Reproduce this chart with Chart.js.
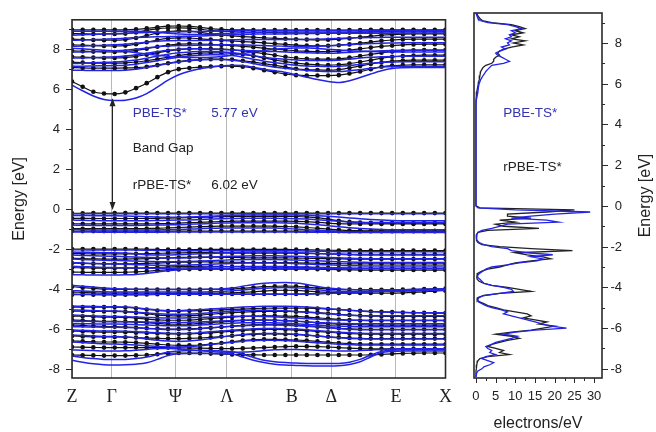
<!DOCTYPE html>
<html>
<head>
<meta charset="utf-8">
<script src="https://cdn.jsdelivr.net/npm/chart.js@4.4.0/dist/chart.umd.min.js"></script>
<style>
  body { margin: 0; background: #fff; }
  #wrap { position: relative; width: 656px; height: 432px; }
  #bands { position: absolute; left: 0; top: 0; }
  #dos { position: absolute; left: 460px; top: 0; }
</style>
</head>
<body>
<div id="wrap">
  <canvas id="bands" width="460" height="432" style="width:460px;height:432px"></canvas>
  <canvas id="dos" width="196" height="432" style="width:196px;height:432px"></canvas>
</div>
<script>
// k-path: band values are given at k-point index 0..35, high symmetry points below
const kSym = [0, 3.72, 9.68, 14.5, 20.6, 24.3, 30.35, 35];
const kLabels = ['Z', 'Γ', 'Ψ', 'Λ', 'B', 'Δ', 'E', 'X'];
const energyTicks = [-8, -7, -6, -5, -4, -3, -2, -1, 0, 1, 2, 3, 4, 5, 6, 7, 8, 9];
const dosTicks = [0, 5, 10, 15, 20, 25, 30];
const dosMinorTicks = [2.5, 7.5, 12.5, 17.5, 22.5, 27.5];

// rPBE-TS* bands (black, with dots)
const rpbeConduction = [
  [6.38,6.12,5.87,5.78,5.76,5.84,6.05,6.3,6.6,6.85,7.0,7.06,7.1,7.13,7.15,7.15,7.12,7.05,6.95,6.85,6.76,6.7,6.68,6.68,6.68,6.7,6.78,6.88,7.0,7.12,7.18,7.2,7.22,7.22,7.22,7.22],
  [7.08,7.06,7.05,7.05,7.05,7.06,7.08,7.12,7.2,7.3,7.38,7.44,7.48,7.5,7.5,7.48,7.42,7.35,7.28,7.2,7.1,7.02,6.98,6.96,6.95,6.98,7.06,7.16,7.26,7.34,7.4,7.43,7.45,7.45,7.45,7.45],
  [7.35,7.33,7.3,7.3,7.3,7.32,7.36,7.42,7.5,7.6,7.68,7.75,7.8,7.82,7.82,7.8,7.74,7.66,7.56,7.46,7.38,7.3,7.25,7.22,7.2,7.22,7.28,7.36,7.45,7.55,7.62,7.66,7.68,7.7,7.7,7.7],
  [7.62,7.6,7.58,7.56,7.56,7.58,7.64,7.72,7.82,7.92,7.98,8.02,8.03,8.02,8.0,7.97,7.92,7.85,7.78,7.7,7.62,7.56,7.52,7.5,7.5,7.52,7.58,7.66,7.74,7.82,7.88,7.92,7.95,7.96,7.96,7.96],
  [7.92,7.9,7.88,7.86,7.86,7.88,7.94,8.02,8.12,8.2,8.25,8.27,8.26,8.24,8.21,8.18,8.14,8.1,8.05,8.0,7.96,7.92,7.9,7.88,7.88,7.9,7.95,8.02,8.08,8.14,8.18,8.22,8.24,8.25,8.25,8.25],
  [8.22,8.2,8.18,8.16,8.16,8.18,8.25,8.35,8.46,8.54,8.57,8.56,8.52,8.48,8.44,8.41,8.38,8.35,8.32,8.28,8.24,8.2,8.18,8.17,8.17,8.2,8.24,8.3,8.36,8.42,8.46,8.49,8.5,8.5,8.5,8.5],
  [8.5,8.48,8.46,8.45,8.45,8.48,8.56,8.68,8.8,8.88,8.92,8.9,8.84,8.76,8.7,8.66,8.63,8.6,8.57,8.54,8.52,8.5,8.48,8.47,8.47,8.5,8.54,8.6,8.65,8.7,8.73,8.75,8.76,8.76,8.76,8.76],
  [8.78,8.77,8.76,8.76,8.76,8.78,8.84,8.94,9.02,9.06,9.07,9.05,9.0,8.94,8.9,8.88,8.86,8.85,8.84,8.83,8.82,8.81,8.8,8.8,8.8,8.81,8.83,8.85,8.87,8.88,8.89,8.9,8.9,8.9,8.9,8.9],
  [8.97,8.97,8.97,8.97,8.97,8.97,8.99,9.04,9.1,9.15,9.16,9.14,9.09,9.03,8.99,8.97,8.97,8.96,8.96,8.96,8.96,8.96,8.96,8.96,8.96,8.96,8.96,8.96,8.97,8.97,8.97,8.97,8.97,8.97,8.97,8.97]
];
const rpbeValence = [
  [-0.21,-0.21,-0.2,-0.2,-0.2,-0.2,-0.2,-0.2,-0.2,-0.2,-0.2,-0.2,-0.2,-0.2,-0.2,-0.2,-0.2,-0.2,-0.2,-0.2,-0.2,-0.2,-0.2,-0.2,-0.2,-0.2,-0.2,-0.2,-0.2,-0.2,-0.2,-0.2,-0.2,-0.2,-0.2,-0.2],
  [-0.46,-0.46,-0.47,-0.47,-0.47,-0.47,-0.47,-0.47,-0.46,-0.45,-0.44,-0.43,-0.42,-0.4,-0.38,-0.37,-0.36,-0.36,-0.36,-0.36,-0.36,-0.37,-0.39,-0.43,-0.5,-0.58,-0.64,-0.67,-0.68,-0.69,-0.69,-0.69,-0.69,-0.69,-0.69,-0.69],
  [-0.73,-0.74,-0.74,-0.74,-0.74,-0.74,-0.74,-0.74,-0.73,-0.72,-0.7,-0.68,-0.66,-0.64,-0.62,-0.61,-0.6,-0.6,-0.6,-0.6,-0.6,-0.61,-0.63,-0.66,-0.7,-0.73,-0.74,-0.74,-0.74,-0.74,-0.74,-0.74,-0.74,-0.74,-0.74,-0.74],
  [-0.97,-0.98,-0.98,-0.98,-0.98,-0.98,-0.98,-0.97,-0.96,-0.94,-0.92,-0.9,-0.88,-0.86,-0.85,-0.85,-0.85,-0.85,-0.85,-0.86,-0.87,-0.89,-0.92,-0.96,-1.0,-1.04,-1.07,-1.08,-1.09,-1.09,-1.09,-1.09,-1.09,-1.09,-1.09,-1.09],
  [-1.1,-1.1,-1.1,-1.1,-1.1,-1.1,-1.1,-1.1,-1.1,-1.1,-1.1,-1.1,-1.1,-1.1,-1.1,-1.1,-1.1,-1.1,-1.1,-1.1,-1.1,-1.1,-1.1,-1.1,-1.1,-1.11,-1.11,-1.11,-1.11,-1.11,-1.11,-1.11,-1.11,-1.11,-1.11,-1.11],
  [-2.0,-2.0,-2.0,-2.0,-2.0,-2.0,-2.0,-2.01,-2.02,-2.03,-2.03,-2.03,-2.02,-2.02,-2.02,-2.02,-2.02,-2.02,-2.02,-2.02,-2.02,-2.03,-2.04,-2.05,-2.06,-2.07,-2.08,-2.08,-2.08,-2.08,-2.08,-2.08,-2.08,-2.08,-2.08,-2.08],
  [-2.22,-2.23,-2.24,-2.24,-2.24,-2.24,-2.24,-2.23,-2.22,-2.2,-2.19,-2.18,-2.18,-2.18,-2.19,-2.2,-2.2,-2.2,-2.2,-2.2,-2.2,-2.21,-2.22,-2.23,-2.24,-2.25,-2.26,-2.26,-2.26,-2.26,-2.26,-2.26,-2.26,-2.26,-2.26,-2.26],
  [-2.46,-2.48,-2.49,-2.5,-2.5,-2.5,-2.49,-2.48,-2.46,-2.44,-2.42,-2.41,-2.4,-2.4,-2.41,-2.42,-2.43,-2.44,-2.44,-2.44,-2.44,-2.45,-2.46,-2.47,-2.48,-2.49,-2.5,-2.5,-2.5,-2.5,-2.5,-2.5,-2.5,-2.5,-2.5,-2.5],
  [-2.7,-2.72,-2.73,-2.74,-2.74,-2.74,-2.73,-2.72,-2.7,-2.68,-2.66,-2.65,-2.64,-2.64,-2.65,-2.66,-2.67,-2.68,-2.68,-2.68,-2.68,-2.69,-2.7,-2.71,-2.72,-2.73,-2.74,-2.74,-2.74,-2.74,-2.74,-2.74,-2.74,-2.74,-2.74,-2.74],
  [-2.93,-2.94,-2.95,-2.96,-2.96,-2.96,-2.95,-2.94,-2.92,-2.9,-2.88,-2.87,-2.86,-2.86,-2.87,-2.88,-2.89,-2.9,-2.9,-2.9,-2.9,-2.91,-2.92,-2.93,-2.94,-2.95,-2.96,-2.96,-2.96,-2.96,-2.96,-2.96,-2.96,-2.96,-2.96,-2.96],
  [-3.15,-3.16,-3.17,-3.17,-3.17,-3.16,-3.14,-3.11,-3.07,-3.04,-3.02,-3.01,-3.0,-3.0,-3.0,-3.0,-3.0,-3.0,-3.0,-3.0,-3.0,-3.0,-3.0,-3.01,-3.02,-3.03,-3.04,-3.05,-3.05,-3.05,-3.05,-3.05,-3.05,-3.05,-3.05,-3.05],
  [-3.88,-3.93,-3.97,-4.0,-4.01,-4.02,-4.02,-4.02,-4.02,-4.02,-4.02,-4.02,-4.02,-4.02,-4.01,-4.0,-3.97,-3.92,-3.88,-3.86,-3.85,-3.86,-3.9,-3.95,-3.99,-4.02,-4.03,-4.04,-4.04,-4.04,-4.04,-4.03,-4.02,-4.0,-3.99,-3.98],
  [-4.15,-4.17,-4.19,-4.2,-4.2,-4.2,-4.2,-4.2,-4.2,-4.2,-4.2,-4.2,-4.2,-4.2,-4.2,-4.19,-4.17,-4.14,-4.1,-4.07,-4.06,-4.07,-4.1,-4.14,-4.17,-4.19,-4.2,-4.2,-4.2,-4.2,-4.2,-4.19,-4.17,-4.14,-4.1,-4.08],
  [-4.28,-4.28,-4.28,-4.28,-4.28,-4.28,-4.28,-4.27,-4.26,-4.25,-4.25,-4.25,-4.25,-4.25,-4.25,-4.25,-4.25,-4.25,-4.25,-4.25,-4.25,-4.25,-4.24,-4.23,-4.21,-4.19,-4.17,-4.15,-4.13,-4.11,-4.1,-4.09,-4.08,-4.07,-4.06,-4.05],
  [-4.9,-4.9,-4.9,-4.9,-4.9,-4.92,-4.96,-5.02,-5.07,-5.1,-5.1,-5.09,-5.08,-5.06,-5.04,-5.02,-5.0,-4.98,-4.96,-4.95,-4.95,-4.95,-4.96,-4.98,-5.0,-5.03,-5.06,-5.09,-5.12,-5.14,-5.15,-5.17,-5.18,-5.19,-5.2,-5.2],
  [-5.1,-5.1,-5.11,-5.12,-5.12,-5.14,-5.18,-5.24,-5.3,-5.33,-5.34,-5.33,-5.3,-5.26,-5.22,-5.18,-5.15,-5.13,-5.12,-5.12,-5.12,-5.13,-5.15,-5.18,-5.22,-5.26,-5.3,-5.33,-5.35,-5.36,-5.37,-5.37,-5.37,-5.37,-5.37,-5.37],
  [-5.35,-5.36,-5.38,-5.4,-5.4,-5.42,-5.45,-5.5,-5.54,-5.56,-5.56,-5.55,-5.52,-5.48,-5.44,-5.4,-5.37,-5.35,-5.34,-5.34,-5.35,-5.37,-5.4,-5.44,-5.48,-5.52,-5.55,-5.57,-5.58,-5.58,-5.58,-5.58,-5.58,-5.58,-5.58,-5.58],
  [-5.55,-5.57,-5.6,-5.62,-5.62,-5.63,-5.65,-5.68,-5.72,-5.75,-5.76,-5.75,-5.72,-5.68,-5.64,-5.6,-5.57,-5.55,-5.55,-5.56,-5.58,-5.61,-5.65,-5.69,-5.73,-5.76,-5.78,-5.79,-5.8,-5.8,-5.8,-5.8,-5.8,-5.8,-5.8,-5.8],
  [-5.8,-5.82,-5.85,-5.87,-5.88,-5.9,-5.93,-5.96,-5.98,-6.0,-6.0,-5.99,-5.97,-5.94,-5.9,-5.86,-5.82,-5.79,-5.77,-5.77,-5.78,-5.8,-5.84,-5.88,-5.92,-5.96,-5.99,-6.01,-6.02,-6.02,-6.02,-6.02,-6.02,-6.02,-6.02,-6.02],
  [-6.1,-6.12,-6.14,-6.15,-6.15,-6.16,-6.18,-6.2,-6.22,-6.24,-6.25,-6.24,-6.22,-6.19,-6.15,-6.11,-6.07,-6.04,-6.02,-6.02,-6.03,-6.05,-6.08,-6.12,-6.16,-6.2,-6.23,-6.25,-6.26,-6.26,-6.26,-6.26,-6.26,-6.26,-6.26,-6.26],
  [-6.35,-6.37,-6.39,-6.4,-6.4,-6.41,-6.43,-6.45,-6.47,-6.48,-6.48,-6.47,-6.45,-6.42,-6.38,-6.34,-6.3,-6.27,-6.25,-6.25,-6.26,-6.28,-6.31,-6.35,-6.39,-6.42,-6.45,-6.47,-6.48,-6.48,-6.48,-6.48,-6.48,-6.48,-6.48,-6.48],
  [-6.6,-6.62,-6.64,-6.65,-6.65,-6.66,-6.68,-6.72,-6.76,-6.8,-6.82,-6.82,-6.8,-6.76,-6.7,-6.64,-6.58,-6.54,-6.52,-6.52,-6.53,-6.55,-6.58,-6.62,-6.66,-6.7,-6.73,-6.75,-6.76,-6.76,-6.76,-6.76,-6.76,-6.76,-6.76,-6.76],
  [-6.9,-6.91,-6.92,-6.93,-6.93,-6.93,-6.93,-6.93,-6.93,-6.93,-6.94,-6.95,-6.96,-6.97,-6.98,-6.98,-6.97,-6.95,-6.93,-6.9,-6.88,-6.87,-6.87,-6.88,-6.9,-6.93,-6.96,-6.98,-6.99,-6.99,-6.99,-6.99,-6.99,-6.99,-6.99,-6.99],
  [-7.3,-7.31,-7.32,-7.33,-7.33,-7.33,-7.32,-7.3,-7.26,-7.22,-7.2,-7.2,-7.21,-7.23,-7.25,-7.27,-7.28,-7.29,-7.3,-7.3,-7.3,-7.3,-7.3,-7.3,-7.3,-7.3,-7.3,-7.3,-7.29,-7.27,-7.24,-7.22,-7.21,-7.2,-7.2,-7.2]
];

// PBE-TS* bands (blue, plain lines)
const pbeConduction = [
  [6.2,5.92,5.66,5.48,5.43,5.45,5.56,5.78,6.1,6.45,6.72,6.9,7.02,7.1,7.16,7.2,7.18,7.1,7.0,6.92,6.84,6.72,6.6,6.48,6.38,6.33,6.42,6.58,6.76,6.92,7.03,7.07,7.08,7.08,7.08,7.08],
  [6.95,6.94,6.93,6.93,6.93,6.95,7.0,7.08,7.18,7.28,7.36,7.42,7.46,7.48,7.48,7.45,7.38,7.28,7.18,7.1,7.04,6.98,6.93,6.9,6.88,6.88,6.92,6.98,7.05,7.1,7.13,7.14,7.14,7.14,7.14,7.14],
  [7.15,7.15,7.16,7.17,7.18,7.2,7.25,7.33,7.42,7.52,7.6,7.66,7.7,7.72,7.72,7.68,7.6,7.5,7.4,7.32,7.26,7.2,7.16,7.14,7.13,7.14,7.18,7.24,7.3,7.34,7.36,7.37,7.37,7.37,7.37,7.37],
  [7.28,7.3,7.32,7.34,7.36,7.4,7.46,7.55,7.65,7.75,7.82,7.86,7.88,7.88,7.86,7.82,7.76,7.68,7.6,7.54,7.5,7.46,7.44,7.43,7.43,7.45,7.5,7.56,7.6,7.62,7.64,7.65,7.65,7.65,7.65,7.65],
  [7.55,7.56,7.58,7.6,7.62,7.66,7.72,7.8,7.88,7.95,8.0,8.02,8.02,8.0,7.98,7.96,7.94,7.92,7.9,7.88,7.86,7.84,7.82,7.81,7.8,7.81,7.84,7.87,7.9,7.92,7.94,7.95,7.95,7.95,7.95,7.95],
  [7.85,7.86,7.88,7.9,7.92,7.95,8.0,8.06,8.12,8.16,8.18,8.19,8.2,8.21,8.22,8.22,8.21,8.2,8.18,8.16,8.15,8.14,8.14,8.15,8.17,8.2,8.23,8.26,8.28,8.3,8.31,8.32,8.32,8.32,8.32,8.32],
  [8.05,8.02,7.98,7.95,7.92,7.88,7.82,7.76,7.7,7.64,7.6,7.58,7.58,7.6,7.64,7.7,7.78,7.86,7.94,8.0,8.04,8.06,8.06,8.04,8.0,7.96,7.92,7.9,7.88,7.87,7.86,7.86,7.86,7.86,7.86,7.86],
  [8.15,8.16,8.18,8.2,8.22,8.25,8.3,8.35,8.4,8.42,8.43,8.43,8.44,8.45,8.46,8.47,8.48,8.48,8.48,8.48,8.48,8.48,8.49,8.5,8.52,8.54,8.56,8.57,8.58,8.59,8.6,8.6,8.6,8.6,8.6,8.6],
  [8.45,8.46,8.48,8.5,8.52,8.55,8.58,8.6,8.62,8.63,8.64,8.65,8.66,8.68,8.7,8.72,8.74,8.75,8.76,8.76,8.76,8.77,8.78,8.79,8.8,8.8,8.8,8.8,8.8,8.8,8.8,8.8,8.8,8.8,8.8,8.8],
  [8.7,8.72,8.74,8.76,8.78,8.8,8.82,8.84,8.85,8.86,8.87,8.88,8.89,8.9,8.91,8.92,8.93,8.93,8.93,8.93,8.93,8.93,8.93,8.93,8.93,8.93,8.93,8.93,8.93,8.93,8.93,8.93,8.93,8.93,8.93,8.93],
  [8.9,8.9,8.9,8.9,8.9,8.9,8.9,8.88,8.84,8.8,8.76,8.74,8.74,8.76,8.78,8.8,8.82,8.84,8.85,8.86,8.86,8.86,8.86,8.86,8.86,8.86,8.86,8.86,8.86,8.86,8.86,8.86,8.86,8.86,8.86,8.86]
];
const pbeValence = [
  [-0.23,-0.23,-0.23,-0.23,-0.23,-0.23,-0.23,-0.23,-0.23,-0.23,-0.23,-0.23,-0.23,-0.23,-0.23,-0.23,-0.23,-0.23,-0.23,-0.23,-0.23,-0.23,-0.23,-0.23,-0.23,-0.23,-0.23,-0.23,-0.23,-0.23,-0.23,-0.23,-0.23,-0.23,-0.23,-0.23],
  [-0.32,-0.32,-0.33,-0.33,-0.33,-0.34,-0.36,-0.38,-0.4,-0.41,-0.41,-0.4,-0.38,-0.36,-0.33,-0.31,-0.3,-0.29,-0.29,-0.29,-0.29,-0.3,-0.31,-0.33,-0.36,-0.4,-0.44,-0.48,-0.52,-0.55,-0.57,-0.58,-0.58,-0.58,-0.58,-0.58],
  [-0.55,-0.56,-0.57,-0.58,-0.58,-0.58,-0.58,-0.58,-0.57,-0.56,-0.55,-0.54,-0.52,-0.5,-0.48,-0.47,-0.46,-0.46,-0.46,-0.46,-0.47,-0.48,-0.5,-0.53,-0.57,-0.61,-0.64,-0.66,-0.67,-0.67,-0.67,-0.67,-0.67,-0.67,-0.67,-0.67],
  [-0.8,-0.81,-0.82,-0.82,-0.82,-0.82,-0.82,-0.81,-0.8,-0.79,-0.78,-0.76,-0.74,-0.72,-0.7,-0.69,-0.68,-0.68,-0.68,-0.68,-0.69,-0.71,-0.74,-0.78,-0.83,-0.88,-0.93,-0.97,-1.0,-1.02,-1.03,-1.03,-1.03,-1.03,-1.03,-1.03],
  [-1.02,-1.03,-1.04,-1.05,-1.05,-1.05,-1.05,-1.05,-1.04,-1.03,-1.02,-1.0,-0.98,-0.96,-0.95,-0.94,-0.94,-0.94,-0.94,-0.95,-0.97,-1.0,-1.03,-1.06,-1.09,-1.12,-1.14,-1.15,-1.15,-1.15,-1.15,-1.15,-1.15,-1.15,-1.15,-1.15],
  [-1.14,-1.15,-1.15,-1.16,-1.16,-1.16,-1.16,-1.16,-1.16,-1.15,-1.15,-1.15,-1.15,-1.15,-1.15,-1.15,-1.15,-1.15,-1.15,-1.15,-1.15,-1.15,-1.16,-1.16,-1.16,-1.16,-1.17,-1.17,-1.17,-1.17,-1.17,-1.17,-1.17,-1.17,-1.17,-1.17],
  [-2.04,-2.04,-2.05,-2.05,-2.05,-2.05,-2.05,-2.06,-2.07,-2.08,-2.08,-2.08,-2.08,-2.08,-2.08,-2.08,-2.08,-2.08,-2.08,-2.08,-2.08,-2.09,-2.1,-2.11,-2.12,-2.13,-2.13,-2.13,-2.13,-2.13,-2.13,-2.13,-2.13,-2.13,-2.13,-2.13],
  [-2.15,-2.16,-2.17,-2.18,-2.18,-2.2,-2.24,-2.28,-2.3,-2.3,-2.28,-2.26,-2.24,-2.22,-2.2,-2.18,-2.16,-2.15,-2.15,-2.15,-2.16,-2.18,-2.2,-2.22,-2.24,-2.26,-2.28,-2.3,-2.3,-2.3,-2.3,-2.3,-2.3,-2.3,-2.3,-2.3],
  [-2.3,-2.32,-2.34,-2.35,-2.36,-2.38,-2.4,-2.42,-2.44,-2.45,-2.45,-2.44,-2.42,-2.4,-2.38,-2.36,-2.35,-2.34,-2.34,-2.34,-2.35,-2.36,-2.38,-2.4,-2.42,-2.44,-2.46,-2.47,-2.48,-2.48,-2.48,-2.48,-2.48,-2.48,-2.48,-2.48],
  [-2.5,-2.52,-2.54,-2.56,-2.57,-2.58,-2.6,-2.62,-2.63,-2.64,-2.63,-2.62,-2.6,-2.58,-2.56,-2.54,-2.53,-2.52,-2.52,-2.52,-2.53,-2.55,-2.57,-2.59,-2.61,-2.63,-2.65,-2.66,-2.67,-2.67,-2.67,-2.67,-2.67,-2.67,-2.67,-2.67],
  [-2.68,-2.7,-2.72,-2.74,-2.75,-2.76,-2.78,-2.8,-2.81,-2.82,-2.81,-2.8,-2.78,-2.76,-2.74,-2.72,-2.7,-2.7,-2.7,-2.7,-2.71,-2.73,-2.75,-2.77,-2.79,-2.81,-2.83,-2.84,-2.85,-2.85,-2.85,-2.85,-2.85,-2.85,-2.85,-2.85],
  [-2.86,-2.88,-2.9,-2.92,-2.93,-2.94,-2.95,-2.96,-2.96,-2.96,-2.95,-2.94,-2.92,-2.9,-2.89,-2.88,-2.87,-2.87,-2.87,-2.87,-2.88,-2.89,-2.9,-2.92,-2.93,-2.94,-2.95,-2.96,-2.96,-2.96,-2.96,-2.96,-2.96,-2.96,-2.96,-2.96],
  [-3.28,-3.29,-3.3,-3.3,-3.3,-3.29,-3.27,-3.22,-3.15,-3.08,-3.03,-3.0,-2.99,-2.99,-2.99,-2.99,-2.99,-2.99,-2.99,-2.99,-2.99,-2.99,-2.99,-2.99,-2.99,-2.99,-2.99,-2.99,-2.99,-2.99,-2.99,-2.99,-2.99,-2.99,-2.99,-2.99],
  [-3.82,-3.86,-3.9,-3.95,-3.98,-4.0,-4.01,-4.02,-4.02,-4.02,-4.02,-4.02,-4.02,-4.01,-4.0,-3.95,-3.86,-3.77,-3.71,-3.68,-3.67,-3.7,-3.77,-3.87,-3.95,-4.0,-4.02,-4.03,-4.03,-4.03,-4.03,-4.03,-4.02,-4.01,-4.0,-3.99],
  [-4.08,-4.1,-4.12,-4.14,-4.15,-4.15,-4.15,-4.15,-4.15,-4.15,-4.15,-4.15,-4.15,-4.14,-4.12,-4.09,-4.05,-4.0,-3.96,-3.93,-3.92,-3.94,-3.98,-4.03,-4.08,-4.11,-4.13,-4.13,-4.12,-4.11,-4.1,-4.09,-4.08,-4.07,-4.06,-4.05],
  [-4.25,-4.26,-4.27,-4.28,-4.28,-4.28,-4.28,-4.28,-4.27,-4.26,-4.26,-4.26,-4.26,-4.26,-4.26,-4.26,-4.26,-4.26,-4.26,-4.26,-4.26,-4.26,-4.25,-4.24,-4.22,-4.2,-4.18,-4.16,-4.14,-4.12,-4.1,-4.09,-4.08,-4.07,-4.06,-4.05],
  [-4.85,-4.86,-4.87,-4.88,-4.88,-4.9,-4.94,-5.0,-5.05,-5.08,-5.08,-5.06,-5.03,-5.0,-4.97,-4.93,-4.9,-4.88,-4.86,-4.86,-4.86,-4.87,-4.9,-4.94,-4.98,-5.02,-5.06,-5.1,-5.13,-5.15,-5.16,-5.17,-5.18,-5.18,-5.18,-5.18],
  [-5.05,-5.06,-5.08,-5.1,-5.1,-5.12,-5.16,-5.2,-5.24,-5.26,-5.26,-5.25,-5.22,-5.18,-5.14,-5.1,-5.07,-5.06,-5.06,-5.07,-5.09,-5.12,-5.16,-5.2,-5.24,-5.28,-5.31,-5.33,-5.34,-5.34,-5.34,-5.34,-5.34,-5.34,-5.34,-5.34],
  [-5.3,-5.32,-5.34,-5.36,-5.37,-5.38,-5.4,-5.42,-5.44,-5.45,-5.45,-5.44,-5.42,-5.4,-5.38,-5.37,-5.36,-5.36,-5.37,-5.39,-5.42,-5.45,-5.48,-5.51,-5.53,-5.55,-5.56,-5.56,-5.56,-5.56,-5.56,-5.56,-5.56,-5.56,-5.56,-5.56],
  [-5.6,-5.61,-5.62,-5.63,-5.63,-5.63,-5.64,-5.65,-5.66,-5.67,-5.67,-5.66,-5.64,-5.62,-5.6,-5.58,-5.56,-5.55,-5.55,-5.56,-5.58,-5.61,-5.64,-5.67,-5.7,-5.72,-5.73,-5.74,-5.74,-5.74,-5.74,-5.74,-5.74,-5.74,-5.74,-5.74],
  [-5.72,-5.73,-5.74,-5.75,-5.75,-5.76,-5.78,-5.8,-5.82,-5.84,-5.84,-5.83,-5.8,-5.77,-5.74,-5.71,-5.69,-5.68,-5.68,-5.69,-5.71,-5.74,-5.77,-5.8,-5.83,-5.85,-5.87,-5.88,-5.88,-5.88,-5.88,-5.88,-5.88,-5.88,-5.88,-5.88],
  [-5.88,-5.89,-5.9,-5.91,-5.91,-5.92,-5.94,-5.97,-6.0,-6.02,-6.02,-6.01,-5.98,-5.94,-5.9,-5.86,-5.83,-5.81,-5.8,-5.8,-5.81,-5.83,-5.86,-5.9,-5.94,-5.98,-6.01,-6.03,-6.04,-6.04,-6.04,-6.04,-6.04,-6.04,-6.04,-6.04],
  [-6.05,-6.07,-6.09,-6.1,-6.1,-6.11,-6.13,-6.16,-6.19,-6.21,-6.22,-6.21,-6.18,-6.14,-6.1,-6.06,-6.02,-5.99,-5.97,-5.97,-5.98,-6.0,-6.04,-6.08,-6.12,-6.16,-6.19,-6.21,-6.22,-6.22,-6.22,-6.22,-6.22,-6.22,-6.22,-6.22],
  [-6.3,-6.32,-6.35,-6.37,-6.38,-6.4,-6.44,-6.5,-6.56,-6.6,-6.62,-6.6,-6.55,-6.48,-6.4,-6.33,-6.28,-6.24,-6.22,-6.22,-6.23,-6.26,-6.3,-6.35,-6.4,-6.44,-6.47,-6.49,-6.5,-6.5,-6.5,-6.5,-6.5,-6.5,-6.5,-6.5],
  [-6.65,-6.68,-6.71,-6.74,-6.75,-6.77,-6.8,-6.84,-6.88,-6.9,-6.9,-6.88,-6.84,-6.78,-6.72,-6.66,-6.61,-6.58,-6.56,-6.56,-6.58,-6.61,-6.65,-6.69,-6.73,-6.76,-6.78,-6.8,-6.8,-6.8,-6.8,-6.8,-6.8,-6.8,-6.8,-6.8],
  [-7.05,-7.06,-7.08,-7.1,-7.1,-7.09,-7.06,-7.02,-6.98,-6.98,-7.0,-7.04,-7.08,-7.12,-7.15,-7.16,-7.15,-7.12,-7.08,-7.04,-7.02,-7.02,-7.04,-7.06,-7.08,-7.1,-7.1,-7.08,-7.05,-7.02,-7.0,-6.99,-6.99,-6.99,-6.99,-6.99],
  [-7.35,-7.42,-7.48,-7.52,-7.53,-7.52,-7.48,-7.4,-7.28,-7.16,-7.1,-7.08,-7.08,-7.08,-7.1,-7.14,-7.26,-7.42,-7.56,-7.64,-7.68,-7.7,-7.72,-7.73,-7.73,-7.72,-7.66,-7.52,-7.3,-7.12,-7.06,-7.04,-7.04,-7.04,-7.04,-7.04],
  [-7.56,-7.66,-7.74,-7.79,-7.8,-7.79,-7.76,-7.69,-7.52,-7.32,-7.24,-7.22,-7.22,-7.22,-7.23,-7.25,-7.4,-7.56,-7.68,-7.76,-7.8,-7.82,-7.84,-7.85,-7.85,-7.84,-7.78,-7.64,-7.4,-7.18,-7.12,-7.1,-7.1,-7.1,-7.1,-7.1]
];

// density of states, electrons/eV, read at these energies (eV)
const dosEnergy = [9.5,9.4,9.3,9.2,9.1,9.0,8.9,8.8,8.7,8.6,8.5,8.4,8.3,8.2,8.1,8.0,7.9,7.8,7.7,7.6,7.5,7.4,7.3,7.2,7.1,7.0,6.9,6.8,6.7,6.6,6.5,6.4,6.3,6.2,6.1,6.0,5.8,5.6,5.4,5.2,5.0,4.0,3.0,2.0,1.0,0.0,
  -0.1,-0.2,-0.3,-0.4,-0.5,-0.6,-0.7,-0.8,-0.9,-1.0,-1.1,-1.2,-1.3,-1.4,-1.5,-1.6,-1.7,-1.8,-1.9,-2.0,
  -2.1,-2.2,-2.3,-2.4,-2.5,-2.6,-2.7,-2.8,-2.9,-3.0,-3.1,-3.2,-3.3,-3.4,-3.5,-3.6,-3.7,-3.8,-3.9,-4.0,
  -4.1,-4.2,-4.3,-4.4,-4.5,-4.6,-4.7,-4.8,-4.9,-5.0,-5.1,-5.2,-5.3,-5.4,-5.5,-5.6,-5.7,-5.8,-5.9,-6.0,
  -6.1,-6.2,-6.3,-6.4,-6.5,-6.6,-6.7,-6.8,-6.9,-7.0,-7.1,-7.2,-7.3,-7.4,-7.5,-7.6,-7.7,-7.8,-7.9,-8.0,
  -8.1,-8.2,-8.3,-8.4];
const dosRPBE = [0.1,0.3,0.6,1.0,1.6,4,9,11,12.5,10,12,9,11,9,12.5,9.5,12,9,7,6,5.5,6,5,4.5,4.5,4,2.5,1.8,1.5,1.2,1.1,1,0.9,0.8,0.7,0.6,0.4,0.2,0.1,0,0,0,0,0,0,0,
  1,25,18,8,8,14,6,10,5,7,16,3,0.5,0.2,0.1,0.1,0.2,0.5,1.5,6,
  14,24.5,10,13,17,19,14,10,8,6,3,1.5,0.5,0.3,0.2,0.3,0.8,2,4,8,
  11,14,6,2,0.5,0.3,0.8,2,3,5,7,10,13,14,12,15,18,16,20,17,
  14,9,5,9,11,8,6,4,3,5,7,6,8.5,3,1,0.5,0.3,0.2,0.1,0.1,
  0,0,0,0];
const dosPBE = [0.05,0.1,0.3,0.5,1.0,3,8,10,11.5,9,10,8.5,9,7.5,9,8,8.5,6.5,7.5,6,5,5.5,6.5,7.5,8.5,7,4,3.5,3,2.5,2.2,1.8,1.5,1.2,1.0,0.8,0.6,0.5,0.3,0.1,0,0,0,0,0,0,
  0.5,10,29,20,14,9,18,21,8,6,4,1.5,0.5,0.2,0.1,0.1,0.3,0.8,2,4,
  8,9,13,19.5,14,17,15.5,11,8,4,2.5,1.8,1,0.5,0.4,1.0,1.5,2,4,7,
  9,9.5,6,2,0.8,0.4,0.5,1.5,2.5,4,6.5,8,7,9,11,13,15,17,19,23,
  15,10,7,10.5,9,7,5,4,2.5,3,4,3.5,5,2.5,1.5,3,4.5,3.5,2,1.5,
  0.5,0.2,0.1,0];

const BLUE = '#2323e6';
const BLACK = '#111';
const SANS = '"Liberation Sans", Arial, Helvetica, sans-serif';
const eMin = -8.45, eMax = 9.47;

const toPts = band => band.map((e, i) => ({ x: i, y: e }));

const bandSets = [];
[...pbeConduction, ...pbeValence].forEach(b => bandSets.push({
  data: toPts(b), borderColor: BLUE, borderWidth: 1.5, pointRadius: 0, cubicInterpolationMode: 'monotone'
}));
[...rpbeConduction, ...rpbeValence].forEach(b => bandSets.push({
  data: toPts(b), borderColor: BLACK, borderWidth: 1.2, pointRadius: 2.3, pointBorderWidth: 0,
  pointBackgroundColor: BLACK, cubicInterpolationMode: 'monotone'
}));

// frame, tick marks, band gap arrow and labels of the band panel
const bandDeco = {
  id: 'bandDeco',
  afterDatasetsDraw(chart) {
    const { ctx, chartArea: a, scales: { x, y } } = chart;
    ctx.save();
    ctx.strokeStyle = '#2a2a2a';
    ctx.lineWidth = 1;
    energyTicks.forEach(v => {
      const py = Math.round(y.getPixelForValue(v)) + 0.5;
      const len = v % 2 === 0 ? 6 : 3;
      ctx.beginPath(); ctx.moveTo(a.left - len, py); ctx.lineTo(a.left, py); ctx.stroke();
    });
    ctx.lineWidth = 1.6;
    ctx.strokeRect(a.left, a.top, a.right - a.left, a.bottom - a.top);

    // band gap arrow at Gamma
    const ax = Math.round(x.getPixelForValue(kSym[1])) + 0.5;
    const yTop = y.getPixelForValue(5.55), yBot = y.getPixelForValue(-0.05);
    ctx.strokeStyle = '#222'; ctx.fillStyle = '#222'; ctx.lineWidth = 1;
    ctx.beginPath(); ctx.moveTo(ax, yTop + 6); ctx.lineTo(ax, yBot - 6); ctx.stroke();
    ctx.beginPath(); ctx.moveTo(ax, yTop); ctx.lineTo(ax - 3, yTop + 8); ctx.lineTo(ax + 3, yTop + 8); ctx.closePath(); ctx.fill();
    ctx.beginPath(); ctx.moveTo(ax, yBot); ctx.lineTo(ax - 3, yBot - 8); ctx.lineTo(ax + 3, yBot - 8); ctx.closePath(); ctx.fill();

    ctx.font = '13.5px ' + SANS;
    ctx.textBaseline = 'middle';
    const put = (t, kx, e, color, align) => {
      ctx.fillStyle = color; ctx.textAlign = align;
      ctx.fillText(t, x.getPixelForValue(kx), y.getPixelForValue(e));
    };
    put('PBE-TS*', 5.7, 4.78, '#3333b0', 'left');
    put('5.77 eV', 17.4, 4.78, '#3333b0', 'right');
    put('Band Gap', 5.7, 3.02, '#222', 'left');
    put('rPBE-TS*', 5.7, 1.2, '#222', 'left');
    put('6.02 eV', 17.4, 1.2, '#222', 'right');

    // axis title
    ctx.font = '16px ' + SANS;
    ctx.fillStyle = '#222'; ctx.textAlign = 'center';
    ctx.translate(20, (a.top + a.bottom) / 2);
    ctx.rotate(-Math.PI / 2);
    ctx.fillText('Energy [eV]', 0, 0);
    ctx.restore();
  }
};

new Chart(document.getElementById('bands'), {
  type: 'line',
  data: { datasets: bandSets },
  options: {
    responsive: false,
    animation: false,
    layout: { padding: { top: 13, right: 12, left: 0, bottom: 0 } },
    plugins: { legend: { display: false }, tooltip: { enabled: false } },
    scales: {
      x: {
        type: 'linear', min: 0, max: 35, bounds: 'data',
        afterBuildTicks: s => { s.ticks = kSym.map(v => ({ value: v })); },
        afterFit: s => { s.height = 54; },
        grid: { color: '#b8b8b8', lineWidth: 1, drawTicks: false },
        border: { display: false },
        ticks: {
          autoSkip: false, maxRotation: 0, padding: 8, color: '#222',
          font: { family: '"Liberation Serif", "DejaVu Serif", serif', size: 18 },
          callback: (v, i) => kLabels[i]
        }
      },
      y: {
        type: 'linear', min: eMin, max: eMax, bounds: 'data',
        afterBuildTicks: s => { s.ticks = energyTicks.map(v => ({ value: v })); },
        afterFit: s => { s.width = 72; },
        grid: { display: false, drawTicks: false },
        border: { display: false },
        ticks: {
          padding: 12, color: '#222', font: { family: SANS, size: 13 },
          callback: v => (v % 2 === 0 ? String(v) : '')
        }
      }
    }
  },
  plugins: [bandDeco]
});

// frame, ticks and labels of the DOS panel
const dosDeco = {
  id: 'dosDeco',
  afterDatasetsDraw(chart) {
    const { ctx, chartArea: a, scales: { x, y } } = chart;
    ctx.save();
    ctx.strokeStyle = '#2a2a2a';
    ctx.lineWidth = 1;
    ctx.fillStyle = '#222';
    ctx.font = '13px ' + SANS;
    ctx.textAlign = 'right';
    ctx.textBaseline = 'middle';
    energyTicks.forEach(v => {
      const py = Math.round(y.getPixelForValue(v)) + 0.5;
      const major = v % 2 === 0;
      ctx.beginPath(); ctx.moveTo(a.right, py); ctx.lineTo(a.right + (major ? 6 : 3), py); ctx.stroke();
      if (major) ctx.fillText(String(v), a.right + 20, py);
    });
    dosTicks.forEach(v => {
      const px = Math.round(x.getPixelForValue(v)) + 0.5;
      ctx.beginPath(); ctx.moveTo(px, a.bottom); ctx.lineTo(px, a.bottom + 5); ctx.stroke();
    });
    dosMinorTicks.forEach(v => {
      const px = Math.round(x.getPixelForValue(v)) + 0.5;
      ctx.beginPath(); ctx.moveTo(px, a.bottom); ctx.lineTo(px, a.bottom + 3); ctx.stroke();
    });
    ctx.lineWidth = 1.6;
    ctx.strokeRect(a.left, a.top, a.right - a.left, a.bottom - a.top);

    ctx.font = '13.5px ' + SANS;
    ctx.textAlign = 'left';
    ctx.fillStyle = '#3333b0';
    ctx.fillText('PBE-TS*', x.getPixelForValue(6.9), y.getPixelForValue(4.56));
    ctx.fillStyle = '#222';
    ctx.fillText('rPBE-TS*', x.getPixelForValue(6.9), y.getPixelForValue(1.9));

    ctx.font = '16px ' + SANS;
    ctx.textAlign = 'center';
    ctx.fillText('electrons/eV', (a.left + a.right) / 2, 424);
    ctx.translate(186, (a.top + a.bottom) / 2);
    ctx.rotate(-Math.PI / 2);
    ctx.fillText('Energy [eV]', 0, 0);
    ctx.restore();
  }
};

new Chart(document.getElementById('dos'), {
  type: 'line',
  data: {
    datasets: [
      { data: dosEnergy.map((e, i) => ({ x: dosPBE[i], y: e })), borderColor: BLUE, borderWidth: 1.3, pointRadius: 0, tension: 0 },
      { data: dosEnergy.map((e, i) => ({ x: dosRPBE[i], y: e })), borderColor: '#222', borderWidth: 1.3, pointRadius: 0, tension: 0 }
    ]
  },
  options: {
    responsive: false,
    animation: false,
    layout: { padding: { top: 13, right: 0, left: 14, bottom: 0 } },
    plugins: { legend: { display: false }, tooltip: { enabled: false } },
    scales: {
      x: {
        type: 'linear', min: -0.5, max: 32, bounds: 'data',
        afterBuildTicks: s => { s.ticks = dosTicks.map(v => ({ value: v })); },
        afterFit: s => { s.height = 54; },
        grid: { display: false, drawTicks: false },
        border: { display: false },
        ticks: { autoSkip: false, maxRotation: 0, padding: 11, color: '#222', font: { family: SANS, size: 13 } }
      },
      y: {
        type: 'linear', position: 'right', min: eMin, max: eMax, bounds: 'data',
        afterFit: s => { s.width = 54; },
        grid: { display: false, drawTicks: false },
        border: { display: false },
        ticks: { display: false }
      }
    }
  },
  plugins: [dosDeco]
});
</script>
</body>
</html>
